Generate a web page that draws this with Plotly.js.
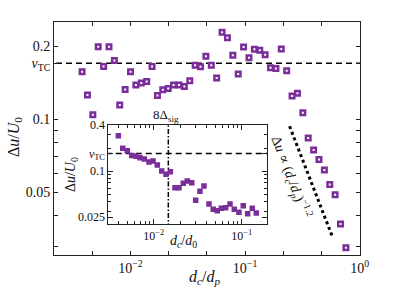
<!DOCTYPE html>
<html>
<head>
<meta charset="utf-8">
<script src="https://cdn.plot.ly/plotly-3.0.1.min.js"></script>
<style>html,body{margin:0;padding:0;background:#fff;}#chart{width:399px;height:289px;}</style>
</head>
<body>
<div id="chart"></div>
<script>
// Main panel: d_c/d_p vs Δu/U0
const mainX = [0.003776,0.004207,0.004688,0.005224,0.005821,0.006486,0.007228,0.008054,0.008974,0.01,
  0.01114,0.01242,0.01384,0.01542,0.01718,0.01914,0.02133,0.02377,0.02649,0.02951,
  0.03289,0.03664,0.04083,0.04550,0.05070,0.05649,0.06295,0.07015,0.07816,0.08710,
  0.09705,0.1081,0.1205,0.1343,0.1496,0.1667,0.1858,0.2070,0.2307,0.2570,
  0.2864,0.3192,0.3556,0.3963,0.4416,0.4920,0.5483,0.6109,0.6808,0.7586];
const mainY = [0.1567,0.1259,0.1042,0.1986,0.1649,0.1986,0.1746,0.1145,0.1326,0.1567,
  0.1381,0.1408,0.1430,0.1649,0.1252,0.1321,0.1338,0.1381,0.1381,0.1364,
  0.1438,0.1669,0.1642,0.1814,0.1669,0.1476,0.2278,0.2163,0.1831,0.1533,
  0.1981,0.1790,0.1938,0.1920,0.1841,0.1627,0.1618,0.1943,0.1581,0.1247,
  0.1280,0.1062,0.0837,0.0747,0.0682,0.0618,0.0538,0.0489,0.0370,0.0296];
// Inset: d_c/d_0 vs Δu/U0
const insetX = [0.003963,0.004446,0.005012,0.005623,0.006295,0.006984,0.007816,0.008851,0.009817,0.01099,
  0.01233,0.01380,0.01545,0.01746,0.01939,0.02168,0.02409,0.02704,0.03000,0.03357,
  0.03730,0.04250,0.04755,0.05281,0.05867,0.06580,0.07362,0.08238,0.09312,0.1042,
  0.1169,0.1318,0.1465];
const insetY = [0.289,0.198,0.184,0.160,0.1556,0.1491,0.1434,0.1311,0.1350,0.1198,
  0.100,0.0906,0.098,0.0605,0.0605,0.0691,0.0741,0.0704,0.0414,0.0543,
  0.0637,0.0371,0.0316,0.0303,0.0326,0.0332,0.0371,0.0316,0.0289,0.0352,
  0.0277,0.0326,0.0283];
const vTC = 0.17;
const sigLine = 0.01466;
const fitX = [0.2445, 0.577];
const fitY = [0.0935, 0.0329];

const mainXTicks = [0.004642,0.01,0.02154,0.04642,0.1,0.2154,0.4642,1];
const mainXText = ['','10<sup>−2</sup>','','','10<sup>−1</sup>','','','10<sup>0</sup>'];
const mainYTicks = [0.03,0.04,0.05,0.06,0.07,0.08,0.09,0.1,0.17,0.2];
const mainYText = ['','','0.05','','','','','0.1','<i>v</i><sub>TC</sub>','0.2'];
const insetXTicks = [0.01,0.1];
const insetXText = ['10<sup>−2</sup>','10<sup>−1</sup>'];
const insetXMinor = [0.004,0.005,0.006,0.007,0.008,0.009,0.02,0.03,0.04,0.05,0.06,0.07,0.08,0.09];
const insetYTicks = [0.025,0.1,0.17,0.4];
const insetYText = ['0.025','0.1','<i>v</i><sub>TC</sub>','0.4'];
const insetYMinor = [0.03,0.04,0.05,0.06,0.07,0.08,0.09,0.2,0.3];

const purple = '#7a2e99';
const font = 'Liberation Serif, DejaVu Serif, serif';

const traces = [
  {x:[0.001,2], y:[vTC,vTC], mode:'lines', line:{color:'#000',width:1.5,dash:'6px,4px'}, xaxis:'x', yaxis:'y', hoverinfo:'skip'},
  {x:fitX, y:fitY, mode:'lines', line:{color:'#000',width:3,dash:'dot'}, xaxis:'x', yaxis:'y'},
  {x:mainX, y:mainY, mode:'markers', marker:{symbol:'square',size:4.5,color:'#fff',line:{color:purple,width:2.5}}, xaxis:'x', yaxis:'y'},
  {x:[0.001,1], y:[vTC,vTC], mode:'lines', line:{color:'#000',width:1.5,dash:'6px,4px'}, xaxis:'x2', yaxis:'y2'},
  {x:[sigLine,sigLine], y:[0.005,1], mode:'lines', line:{color:'#000',width:1.5,dash:'5px,2px,1.5px,2px'}, xaxis:'x2', yaxis:'y2'},
  {x:insetX, y:insetY, mode:'markers', marker:{symbol:'square',size:5.5,color:purple}, xaxis:'x2', yaxis:'y2'}
];

const axBase = {showline:true, linecolor:'#222', linewidth:1, mirror:'ticks', ticks:'inside', tickcolor:'#222', showgrid:false, zeroline:false, tickmode:'array'};

const layout = {
  width:399, height:289, showlegend:false,
  margin:{l:54, r:39, t:22, b:34},
  paper_bgcolor:'#fff', plot_bgcolor:'#fff',
  font:{family:font, color:'#111', size:14},
  xaxis: Object.assign({}, axBase, {type:'log', range:[-2.668,0.003], domain:[0,1], anchor:'y', tickvals:mainXTicks, ticktext:mainXText, ticklen:4, tickfont:{size:14}}),
  yaxis: Object.assign({}, axBase, {type:'log', range:[-1.559,-0.600], domain:[0,1], anchor:'x', tickvals:mainYTicks, ticktext:mainYText, ticklen:4, tickfont:{size:14}}),
  xaxis2: Object.assign({}, axBase, {type:'log', range:[-2.516,-0.709], domain:[0.1775,0.697], anchor:'y2', tickvals:insetXTicks, ticktext:insetXText, ticklen:5, tickfont:{size:12},
    minor:{tickmode:'array', tickvals:insetXMinor, ticks:'inside', ticklen:3, tickcolor:'#222'}}),
  yaxis2: Object.assign({}, axBase, {type:'log', range:[-1.696,-0.398], domain:[0.1318,0.558], anchor:'x2', tickvals:insetYTicks, ticktext:insetYText, ticklen:5, tickfont:{size:12},
    minor:{tickmode:'array', tickvals:insetYMinor, ticks:'inside', ticklen:3, tickcolor:'#222'}}),
  annotations: [
    {xref:'paper', yref:'paper', x:0.493, y:-0.098, text:'<i>d<sub>c</sub></i>/<i>d<sub>p</sub></i>', showarrow:false, font:{size:16}, xanchor:'center', yanchor:'middle'},
    {xref:'paper', yref:'paper', x:-0.131, y:0.506, text:'Δ<i>u</i>/<i>U</i><sub>0</sub>', showarrow:false, textangle:-90, font:{size:16}, xanchor:'center', yanchor:'middle'},
    {xref:'paper', yref:'paper', x:0.4216, y:0.0558, text:'<i>d<sub>c</sub></i>/<i>d</i><sub>0</sub>', showarrow:false, font:{size:14}, xanchor:'center', yanchor:'middle'},
    {xref:'paper', yref:'paper', x:0.0556, y:0.343, text:'Δ<i>u</i>/<i>U</i><sub>0</sub>', showarrow:false, textangle:-90, font:{size:14}, xanchor:'center', yanchor:'middle'},
    {xref:'paper', yref:'paper', x:0.3676, y:0.600, text:'8Δ<sub>sig</sub>', showarrow:false, font:{size:13}, xanchor:'center', yanchor:'middle'},
    {xref:'paper', yref:'paper', x:0.776, y:0.335, text:'Δ<i>u</i> ∝ (<i>d<sub>c</sub></i>/<i>d<sub>p</sub></i>)<sup>−1.2</sup>', showarrow:false, textangle:69, font:{size:14}, xanchor:'center', yanchor:'middle'}
  ]
};

Plotly.newPlot('chart', traces, layout, {displayModeBar:false, staticPlot:true});
</script>
</body>
</html>
